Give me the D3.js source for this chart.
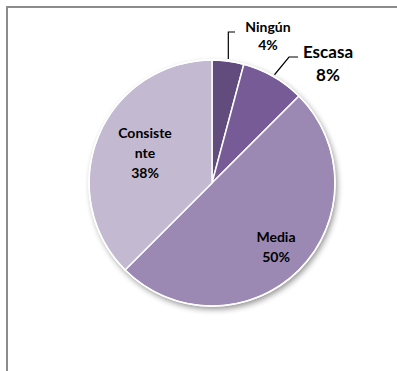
<!DOCTYPE html>
<html><head><meta charset="utf-8">
<script src="https://cdn.jsdelivr.net/npm/d3@7"></script>
<style>html,body{margin:0;padding:0;background:#fff;}svg{display:block;}</style>
</head><body>
<script>
const categories = ["Ningún", "Escasa", "Media", "Consistente"];
const values = [1, 2, 12, 9];
const percentLabels = ["4%", "8%", "50%", "38%"];
const nameLines = [["Ningún"], ["Escasa"], ["Media"], ["Consiste", "nte"]];
const colors = ["#614c7d", "#775b97", "#9b89b3", "#c3b9d1"];

const W = 397, H = 371;
const svg = d3.select("body").append("svg").attr("width", W).attr("height", H);
const defs = svg.append("defs");
const f = defs.append("filter").attr("id", "sh").attr("x", "-20%").attr("y", "-20%").attr("width", "140%").attr("height", "140%");
f.append("feGaussianBlur").attr("in", "SourceAlpha").attr("stdDeviation", 3);
f.append("feOffset").attr("dx", 2).attr("dy", 3).attr("result", "b");
f.append("feComponentTransfer").append("feFuncA").attr("type", "linear").attr("slope", 0.45);
const fm = f.append("feMerge"); fm.append("feMergeNode"); fm.append("feMergeNode").attr("in", "SourceGraphic");

// frame
svg.append("path").attr("d", `M7,${H} L7,7 L${W},7`).attr("fill", "none").attr("stroke", "#8c8c8c").attr("stroke-width", 2);

const cx = 212, cy = 183, R = 123;
const g = svg.append("g").attr("transform", `translate(${cx},${cy})`);
const pie = d3.pie().sort(null).value(d => d)(values);
const arc = d3.arc().innerRadius(0).outerRadius(R);

g.append("circle").attr("r", R).attr("fill", "#fff").attr("filter", "url(#sh)");
g.selectAll("path.s").data(pie).join("path").attr("class", "s")
  .attr("d", arc).attr("fill", (d, i) => colors[i]).attr("stroke", "#fff").attr("stroke-width", 1.5);
g.append("circle").attr("r", R).attr("fill", "none").attr("stroke", "#fff").attr("stroke-width", 1.5);

const font = "Lato, 'Liberation Sans', sans-serif";
function label(x, y, lines, size, lh) {
  const t = svg.append("text").attr("font-family", font).attr("font-weight", "bold")
    .attr("font-size", size).attr("fill", "#000").attr("text-anchor", "middle");
  lines.forEach((l, k) => t.append("tspan").attr("x", x).attr("y", y + k * lh).text(l));
}
// leader lines
const ang = d => (d.startAngle + d.endAngle) / 2;
const edge = (d, r) => [cx + r * Math.sin(ang(d)), cy - r * Math.cos(ang(d))];
const p0 = edge(pie[0], R + 2);
svg.append("polyline").attr("points", `${p0[0]},${p0[1]} ${p0[0]},32 235,32`)
  .attr("fill", "none").attr("stroke", "#000").attr("stroke-width", 1.2);
const p1 = edge(pie[1], R + 2);
svg.append("polyline").attr("points", `${p1[0]},${p1[1]} 289,57 298,57`)
  .attr("fill", "none").attr("stroke", "#000").attr("stroke-width", 1.2);

label(268, 32, [nameLines[0][0], percentLabels[0]], 14, 18);
label(328, 58, [nameLines[1][0], percentLabels[1]], 17, 23);
label(276, 242, [nameLines[2][0], percentLabels[2]], 14, 20);
label(145, 138, [...nameLines[3], percentLabels[3]], 14, 20);
</script>
</body></html>
